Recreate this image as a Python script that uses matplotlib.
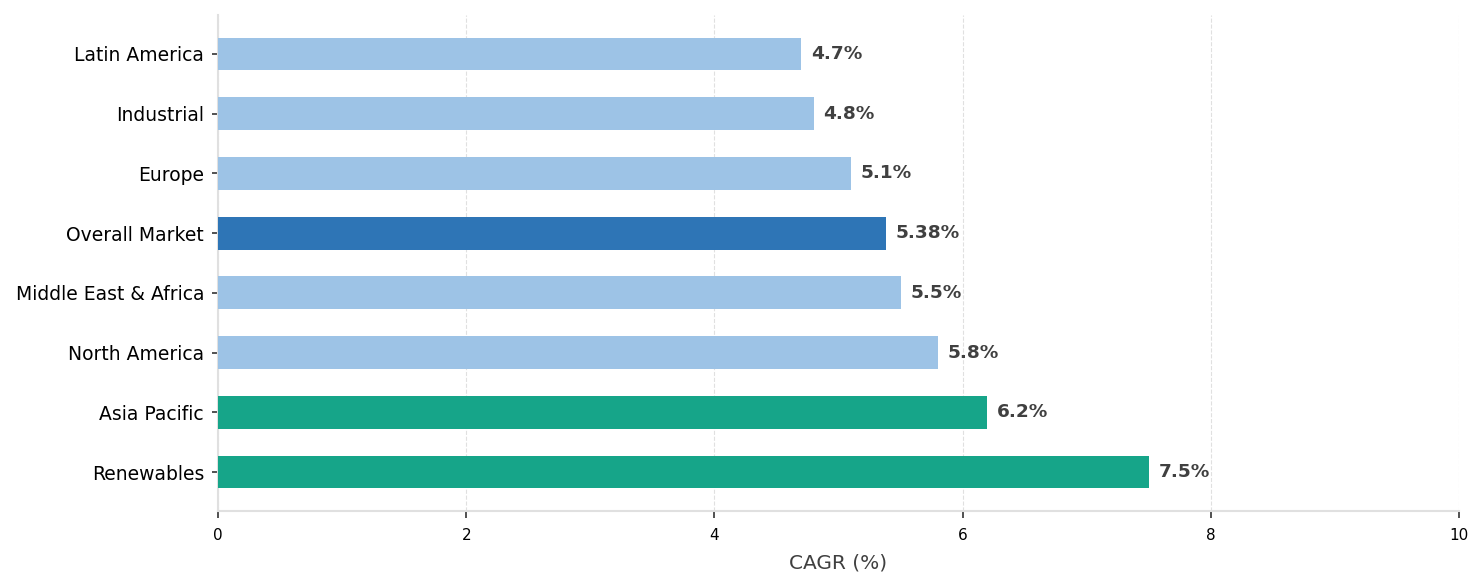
import matplotlib
matplotlib.use('Agg')
import matplotlib.pyplot as plt

categories = ['Renewables', 'Asia Pacific', 'North America', 'Middle East & Africa',
              'Overall Market', 'Europe', 'Industrial', 'Latin America']
cagr = [7.5, 6.2, 5.8, 5.5, 5.38, 5.1, 4.8, 4.7]
labels = ['7.5%', '6.2%', '5.8%', '5.5%', '5.38%', '5.1%', '4.8%', '4.7%']
colors = ['#16a589', '#16a589', '#9dc3e6', '#9dc3e6', '#2e75b6',
          '#9dc3e6', '#9dc3e6', '#9dc3e6']

fig = plt.figure(figsize=(14.84, 5.87), dpi=100)
ax = fig.add_axes([218 / 1484, 1 - 511 / 587, (1459 - 218) / 1484, (511 - 15) / 587])

ax.barh(categories, cagr, height=0.55, color=colors, zorder=3)
for i, (v, t) in enumerate(zip(cagr, labels)):
    ax.text(v + 0.08, i, t, va='center', ha='left', fontsize=13.3,
            fontweight='bold', color='#404040', zorder=4)

ax.set_xlim(0, 10)
ax.set_xticks([0, 2, 4, 6, 8, 10])
ax.tick_params(axis='x', labelsize=11, length=5, width=1.2, pad=7, color='#333333')
ax.tick_params(axis='y', labelsize=13.5, length=4, width=1.2, pad=6, color='#333333')
ax.set_xlabel('CAGR (%)', fontsize=14.5, color='#404040', labelpad=8)
ax.xaxis.grid(True, linestyle='--', color='#e0e0e0', linewidth=0.8, zorder=0)
for s in ['top', 'right']:
    ax.spines[s].set_visible(False)
for s in ['left', 'bottom']:
    ax.spines[s].set_color('#e0e0e0')
    ax.spines[s].set_linewidth(1.5)

fig.savefig('out.png', dpi=100)
